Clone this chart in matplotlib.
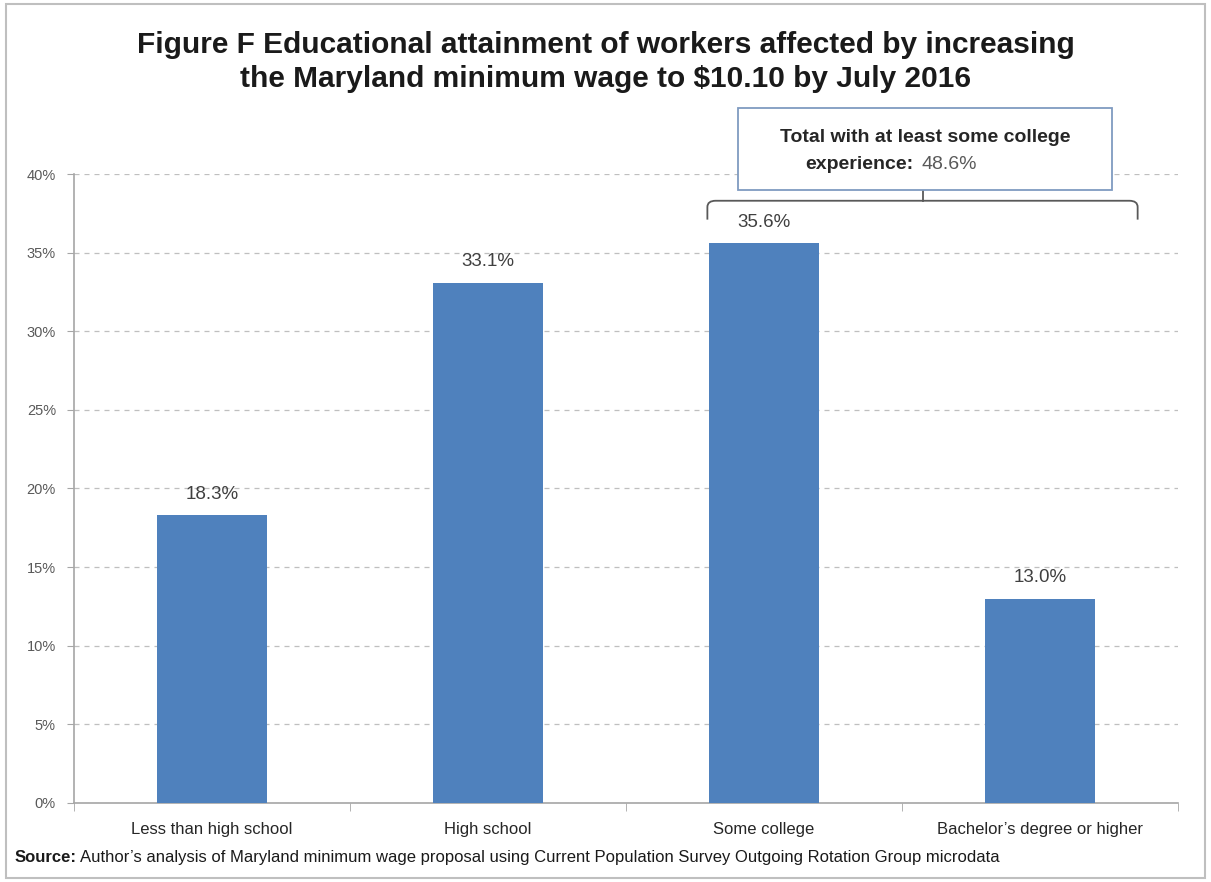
import numpy as np
import matplotlib
matplotlib.use('Agg')
import matplotlib.pyplot as plt
from matplotlib.patches import Rectangle, PathPatch
from matplotlib.path import Path

plt.rcParams['font.family'] = ['Liberation Sans', 'DejaVu Sans']

# data
categories = ['Less than high school', 'High school', 'Some college', 'Bachelor\u2019s degree or higher']
shares = [18.3, 33.1, 35.6, 13.0]
value_labels = ['18.3%', '33.1%', '35.6%', '13.0%']
y_ticks = [0, 5, 10, 15, 20, 25, 30, 35, 40]
y_tick_labels = ['0%', '5%', '10%', '15%', '20%', '25%', '30%', '35%', '40%']
college_total = '48.6%'

BLUE = '#4F81BD'
GRID = '#BFBFBF'
AXIS = '#A6A6A6'
W, H = 1211, 882

fig = plt.figure(figsize=(12.11, 8.82), dpi=100)
ax = fig.add_axes([0.0611, 0.0896, 0.9116, 0.7131])

x = np.arange(len(categories))
ax.bar(x, shares, width=0.4, color=BLUE, zorder=3)

for xi, v, lab in zip(x, shares, value_labels):
    ax.text(xi, v + 0.8, lab, ha='center', va='bottom', fontsize=13.5, color='#404040')

ax.set_xlim(-0.5, len(categories) - 0.5)
ax.set_ylim(0, 40)
ax.set_yticks(y_ticks)
ax.set_yticklabels(y_tick_labels, fontsize=10.5, color='#595959')
ax.yaxis.grid(True, linestyle=(0, (4, 4)), color=GRID, linewidth=0.9, zorder=0)

ax.set_xticks(x)
ax.set_xticklabels(categories, fontsize=12, color='#262626')
ax.set_xticks(np.arange(-0.5, len(categories)), minor=True)
ax.tick_params(axis='x', which='major', length=0, pad=14)
ax.tick_params(axis='x', which='minor', length=6, color=AXIS)
ax.tick_params(axis='y', length=5, color=AXIS, pad=8)

for s in ['top', 'right']:
    ax.spines[s].set_visible(False)
for s in ['left', 'bottom']:
    ax.spines[s].set_color(AXIS)
    ax.spines[s].set_linewidth(1.2)

# bracket over the last two categories
bx0, bx1 = 1.795, 3.354
by_top, by_end = 38.3, 37.1
r = 0.03
mid = 0.5 * (bx0 + bx1)
verts = [(bx0, by_end), (bx0, by_top - 0.4), (bx0, by_top), (bx0 + r, by_top),
         (bx1 - r, by_top), (bx1, by_top), (bx1, by_top - 0.4), (bx1, by_end)]
codes = [Path.MOVETO, Path.LINETO, Path.CURVE3, Path.CURVE3,
         Path.LINETO, Path.CURVE3, Path.CURVE3, Path.LINETO]
ax.add_patch(PathPatch(Path(verts, codes), fill=False, edgecolor='#595959', lw=1.3,
                       clip_on=False, zorder=4))
ax.plot([mid, mid], [by_top, 39.3], color='#595959', lw=1.3, clip_on=False, zorder=4)

# annotation box
fig.add_artist(Rectangle((738 / W, 1 - 190 / H), (1112 - 738) / W, (190 - 108) / H,
                         transform=fig.transFigure, facecolor='white', edgecolor='#7F9BC0', lw=1.3))
fig.text(925 / W, 1 - 142 / H, 'Total with at least some college', ha='center', va='baseline',
         fontsize=14, fontweight='bold', color='#262626')
fig.text(913 / W, 1 - 169 / H, 'experience:', ha='right', va='baseline',
         fontsize=14, fontweight='bold', color='#262626')
fig.text(921 / W, 1 - 169 / H, college_total, ha='left', va='baseline',
         fontsize=14, color='#595959')

# title
fig.text(0.5, 1 - 45 / H, 'Figure F Educational attainment of workers affected by increasing',
         ha='center', va='center', fontsize=21.5, fontweight='bold', color='#1a1a1a')
fig.text(0.5, 1 - 79 / H, 'the Maryland minimum wage to $10.10 by July 2016',
         ha='center', va='center', fontsize=21.5, fontweight='bold', color='#1a1a1a')

# source line: bold label, then the rest right after it
src = fig.text(15 / W, 1 - 862 / H, 'Source:', ha='left', va='baseline', fontsize=12,
               fontweight='bold', color='#1a1a1a')
renderer = fig.canvas.get_renderer()
bb = src.get_window_extent(renderer=renderer)
fig.text((bb.x1 + 3) / W, 1 - 862 / H,
         'Author\u2019s analysis of Maryland minimum wage proposal using Current Population Survey Outgoing Rotation Group microdata',
         ha='left', va='baseline', fontsize=12, color='#1a1a1a')

# outer frame
fig.add_artist(Rectangle((6 / W, 4 / H), 1199 / W, 874 / H, transform=fig.transFigure,
                         fill=False, edgecolor='#BFBFBF', lw=1.5))

fig.savefig('out.png', dpi=100)
